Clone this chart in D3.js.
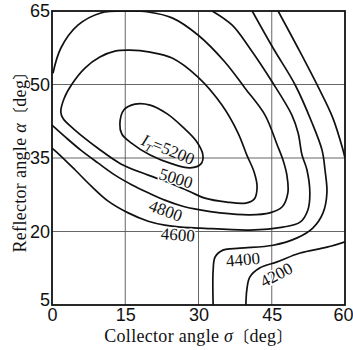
<!DOCTYPE html>
<html>
<head>
<meta charset="utf-8">
<script src="https://cdn.jsdelivr.net/npm/d3@7"></script>
<style>
body { margin: 0; background: #fff; }
svg { display: block; font-family: "Liberation Serif", "Times New Roman", serif; }
.tick text { font-size: 18px; fill: #111; }
</style>
</head>
<body>
<svg width="353" height="350"></svg>
<script>
// axis ticks
var xTicks = [0, 15, 30, 45, 60];
var yTicks = [5, 20, 35, 50, 65];

// contour lines, [sigma, alpha] in degrees
var c5200 = [[13.9,41.9],[14.7,44.8],[17.0,46.0],[20.1,45.8],[23.6,44.0],[26.8,41.3],[29.5,38.5],
  [30.9,35.6],[30.5,33.8],[28.3,33.0],[24.6,33.8],[20.1,35.6],[16.2,38.1],[14.3,39.9]];
var c5000 = [[1.8,44.4],[2.5,47.2],[4.1,50.1],[6.8,53.4],[9.8,55.6],[12.9,56.8],[16.0,57.0],[20.1,56.6],
  [24.6,55.4],[29.9,51.5],[34.8,45.8],[38.1,40.1],[39.9,35.6],[41.4,32.1],[42.0,29.1],[41.4,26.6],
  [39.7,25.8],[35.8,26.0],[31.3,26.8],[28.3,28.1],[24.6,29.7],[19.7,31.5],[14.1,33.8],[9.4,37.0],
  [4.7,40.7],[2.3,43.0]];
var c4800 = [[0,41.7],[2.7,39.3],[5.9,36.6],[9.4,34.0],[12.9,31.5],[16.4,29.5],[19.7,27.9],[23.1,26.4],
  [26.6,25.2],[30.3,24.4],[34.4,23.8],[40.5,23.4],[44.6,23.8],[47.1,25.0],[48.3,27.9],[48.1,31.5],
  [47.3,34.6],[46.1,37.7],[43.6,43.8],[39.5,49.3],[35.4,54.6],[29.9,60.1],[24.6,63.6],[19.7,64.8],
  [15.6,65.0],[10.0,64.6],[5.3,62.1],[1.8,57.4],[0.2,52.3]];
var c4600 = [[0,37.0],[1.6,35.6],[4.7,32.6],[8.0,29.3],[11.5,26.2],[15.6,23.8],[19.7,22.1],[23.1,21.3],
  [26.4,20.9],[30.3,20.7],[40.5,20.3],[47.3,20.9],[50.8,21.9],[52.4,24.4],[52.8,27.9],[52.2,32.6],
  [51.2,35.6],[50.4,40.1],[49.1,43.8],[45.1,50.5],[40.5,57.4],[36.9,62.1],[32.8,65]];
var c4400 = [[41.0,65],[45.3,57.4],[49.8,49.9],[53.2,42.3],[55.3,36.6],[55.9,32.6],[56.3,27.9],[55.5,23.8],
  [53.4,20.7],[50.2,18.7],[45.3,17.2],[38.5,16.6],[35.0,16.2],[33.4,14.8],[33.0,12.1],[33.0,5]];
var c4200a = [[46.3,65],[50.4,57.4],[54.3,49.9],[57.5,43.2],[59.6,36.6],[60,35.0]];
var c4200b = [[60,17.9],[56.3,16.8],[50.8,15.6],[46.1,13.8],[42.6,12.6],[40.5,10.7],[39.9,8.1],[39.7,5]];

var contours = [
  {level: 5200, pts: c5200, closed: true},
  {level: 5000, pts: c5000, closed: true},
  {level: 4800, pts: c4800, closed: false},
  {level: 4600, pts: c4600, closed: false},
  {level: 4400, pts: c4400, closed: false},
  {level: 4200, pts: c4200a, closed: false},
  {level: 4200, pts: c4200b, closed: false}
];

// label placement (sigma, alpha, angle)
var labels = [
  {text: "5000", s: 25.4, a: 30.9, rot: 17},
  {text: "4800", s: 23.3, a: 24.3, rot: 20},
  {text: "4600", s: 25.8, a: 19.4, rot: 4},
  {text: "4400", s: 39.1, a: 14.3, rot: -5},
  {text: "4200", s: 45.9, a: 11.2, rot: -28}
];
var mainLabel = {s: 23.8, a: 36.8, rot: 22};

var svg = d3.select("svg");
var marginLeft = 52, marginTop = 11, width = 293, height = 294;

var x = d3.scaleLinear().domain([0, 60]).range([0, width]);
var y = d3.scaleLinear().domain([5, 65]).range([height, 0]);

var g = svg.append("g")
  .attr("transform", "translate(" + marginLeft + "," + marginTop + ")");

g.append("clipPath")
  .attr("id", "plot")
  .append("rect")
  .attr("width", width)
  .attr("height", height);

// grid
g.selectAll(".vgrid")
  .data(xTicks.slice(1, -1))
  .enter()
  .append("line")
  .attr("x1", d => x(d)).attr("x2", d => x(d))
  .attr("y1", 0).attr("y2", height)
  .attr("stroke", "#555")
  .attr("stroke-width", 0.9);

g.selectAll(".hgrid")
  .data(yTicks.slice(1, -1))
  .enter()
  .append("line")
  .attr("y1", d => y(d)).attr("y2", d => y(d))
  .attr("x1", 0).attr("x2", width)
  .attr("stroke", "#555")
  .attr("stroke-width", 0.9);

// contours
var line = d3.line().x(d => x(d[0])).y(d => y(d[1]));

g.append("g")
  .attr("clip-path", "url(#plot)")
  .selectAll("path")
  .data(contours)
  .enter()
  .append("path")
  .attr("d", d => line.curve(d.closed ? d3.curveCatmullRomClosed.alpha(0.5) : d3.curveCatmullRom.alpha(0.5))(d.pts))
  .attr("fill", "none")
  .attr("stroke", "#111")
  .attr("stroke-width", 1.7);

// frame
g.append("rect")
  .attr("width", width)
  .attr("height", height)
  .attr("fill", "none")
  .attr("stroke", "#111")
  .attr("stroke-width", 1.8);

// contour labels
g.selectAll(".clab")
  .data(labels)
  .enter()
  .append("text")
  .attr("transform", d => "translate(" + x(d.s) + "," + y(d.a) + ") rotate(" + d.rot + ")")
  .attr("text-anchor", "middle")
  .attr("dy", "0.35em")
  .attr("font-size", 17)
  .attr("fill", "#111")
  .attr("stroke", "#fff")
  .attr("stroke-width", 3)
  .attr("paint-order", "stroke")
  .text(d => d.text);

var ml = g.append("text")
  .attr("transform", "translate(" + x(mainLabel.s) + "," + y(mainLabel.a) + ") rotate(" + mainLabel.rot + ")")
  .attr("text-anchor", "middle")
  .attr("dy", "0.35em")
  .attr("font-size", 17)
  .attr("fill", "#111");
ml.append("tspan").attr("font-style", "italic").text("I");
ml.append("tspan").attr("font-style", "italic").attr("font-size", 11).attr("dy", 4).text("T");
ml.append("tspan").attr("dy", -4).text("=5200");

// axes
var xAxis = g.append("g")
  .attr("transform", "translate(0," + height + ")")
  .call(d3.axisBottom(x).tickValues(xTicks).tickSize(0).tickPadding(3));

var yAxis = g.append("g")
  .call(d3.axisLeft(y).tickValues(yTicks).tickSize(0).tickPadding(2));

xAxis.select(".domain").remove();
yAxis.select(".domain").remove();
xAxis.selectAll("text").style("font-family", "inherit");
yAxis.selectAll("text").style("font-family", "inherit");
xAxis.selectAll(".tick").filter(d => d == 60).select("text").attr("text-anchor", "end").attr("dx", "0.45em");
yAxis.selectAll(".tick").filter(d => d == 5).select("text").attr("dy", "0.05em");

// titles
var xt = svg.append("text")
  .attr("x", marginLeft + width / 2)
  .attr("y", 342)
  .attr("text-anchor", "middle")
  .attr("font-size", 18)
  .attr("letter-spacing", 0.3)
  .attr("fill", "#111");
xt.append("tspan").text("Collector angle ");
xt.append("tspan").attr("font-style", "italic").text("σ");
xt.append("tspan").attr("font-family", "Noto Sans CJK JP").attr("font-size", 16).text("〔");
xt.append("tspan").text("deg");
xt.append("tspan").attr("font-family", "Noto Sans CJK JP").attr("font-size", 16).text("〕");

var yt = svg.append("text")
  .attr("transform", "translate(26," + (marginTop + height / 2) + ") rotate(-90)")
  .attr("text-anchor", "middle")
  .attr("font-size", 18)
  .attr("letter-spacing", 0.3)
  .attr("fill", "#111");
yt.append("tspan").text("Reflector angle ");
yt.append("tspan").attr("font-style", "italic").text("α");
yt.append("tspan").attr("font-family", "Noto Sans CJK JP").attr("font-size", 16).text("〔");
yt.append("tspan").text("deg");
yt.append("tspan").attr("font-family", "Noto Sans CJK JP").attr("font-size", 16).text("〕");
</script>
</body>
</html>
